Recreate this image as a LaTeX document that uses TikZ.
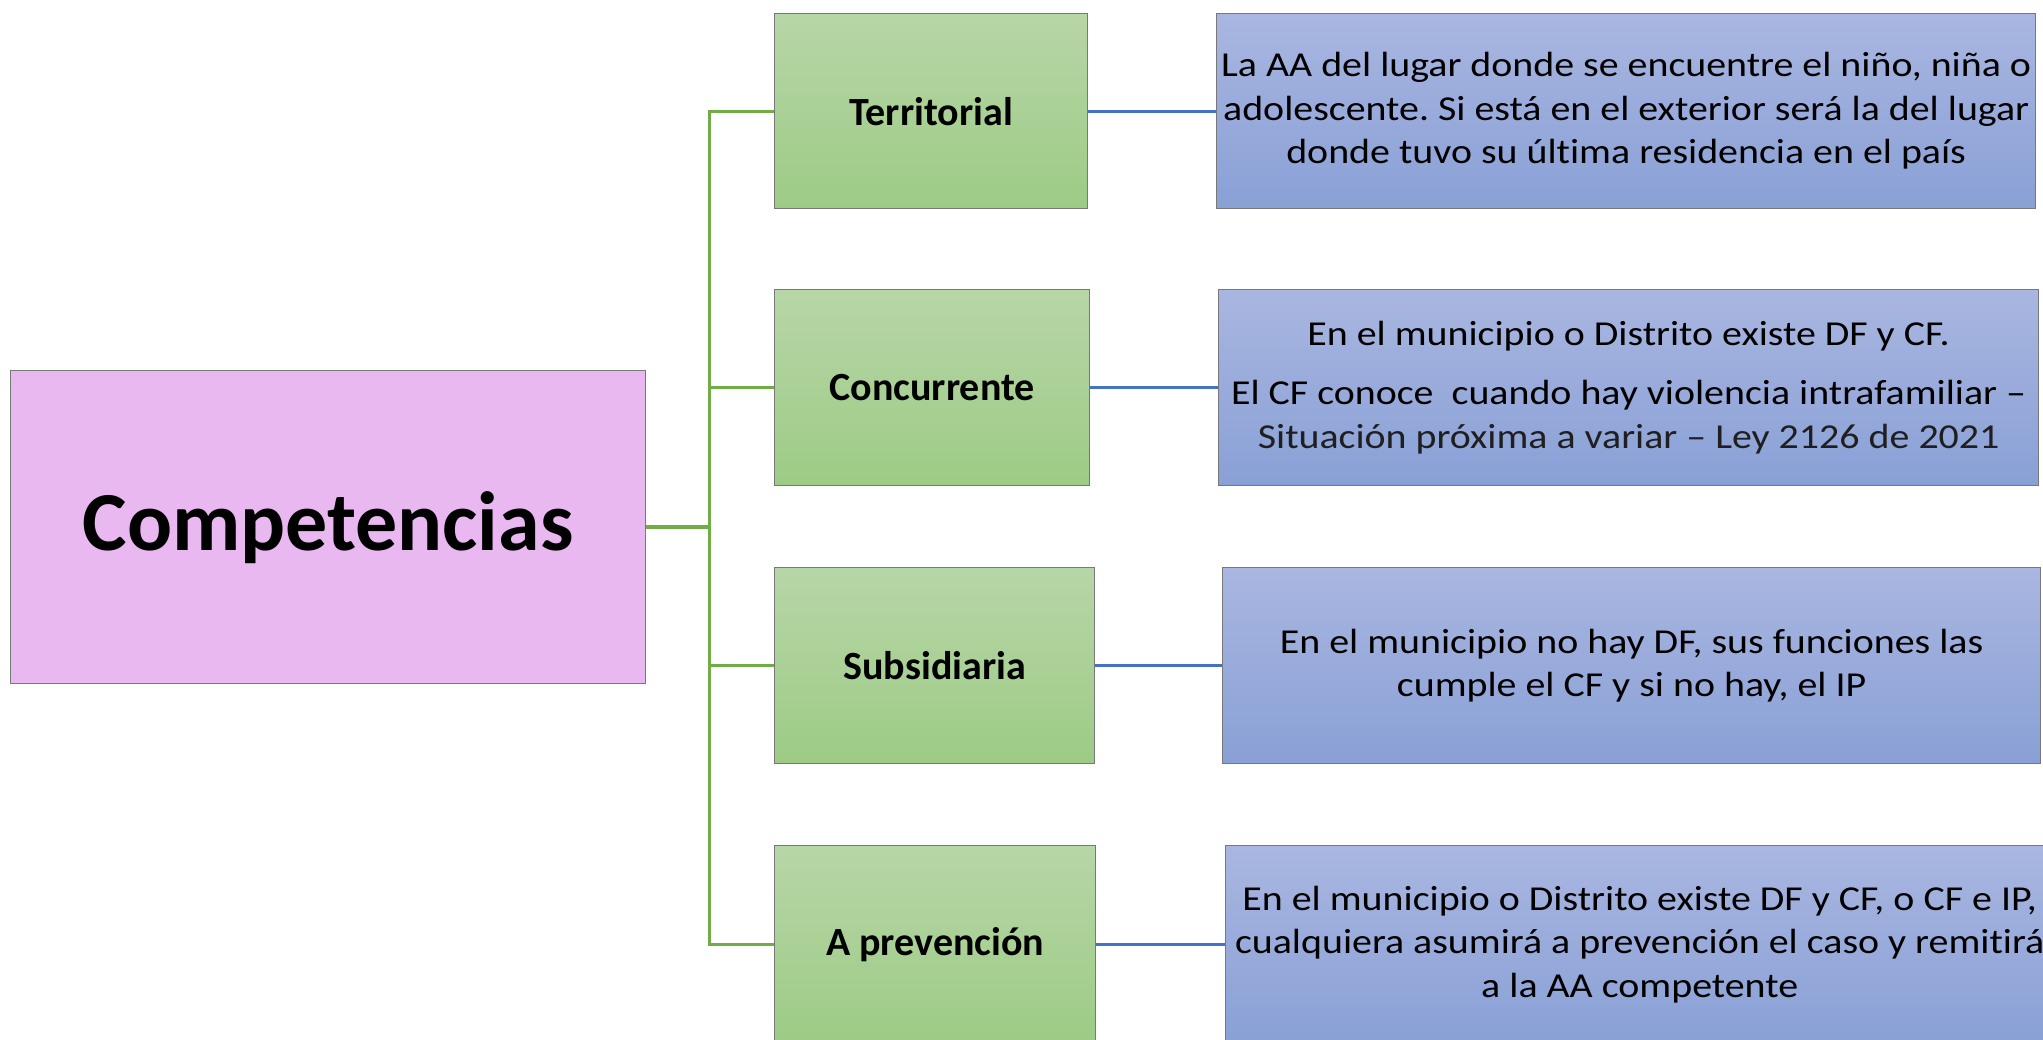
\documentclass[tikz,border=0pt]{standalone}
\usepackage{fontspec}
\setmainfont{Carlito}
\newfontfamily\descfont[FakeStretch=1.14,Ligatures=CommonOff]{Carlito}
\frenchspacing
\definecolor{gtop}{RGB}{183,214,167}
\definecolor{gbot}{RGB}{157,203,133}
\definecolor{btop}{RGB}{169,182,224}
\definecolor{bbot}{RGB}{137,160,214}
\definecolor{pinkf}{RGB}{233,184,240}
\definecolor{bordc}{RGB}{120,120,120}
\definecolor{glinec}{RGB}{112,173,71}
\definecolor{blinec}{RGB}{68,114,196}
\tikzset{
  boxbase/.style={draw=bordc, line width=1.3pt, inner sep=0pt, anchor=north west, align=center},
  mainbox/.style={boxbase, fill=pinkf, font=\fontsize{84}{100}\selectfont\bfseries},
  catbox/.style={boxbase, top color=gtop, bottom color=gbot, font=\fontsize{40}{46}\selectfont\bfseries},
  descbox/.style={boxbase, top color=btop, bottom color=bbot, font=\descfont\fontsize{35}{43.5}\selectfont\frenchspacing},
  gline/.style={draw=glinec, line width=3pt},
  bline/.style={draw=blinec, line width=3pt}
}
\begin{document}
\begin{tikzpicture}[x=1pt,y=-1pt]
\useasboundingbox (0,0) rectangle (2043,1039);
\clip (0,0) rectangle (2043,1039);
\node[mainbox, minimum width=635pt, minimum height=313pt] (comp) at (10,370) {Competencias};
\node[catbox, minimum width=313pt, minimum height=195pt] (t1) at (774,13) {Territorial};
\node[catbox, minimum width=315pt, minimum height=196pt] (t2) at (774,289) {Concurrente};
\node[catbox, minimum width=320pt, minimum height=196pt] (t3) at (774,567) {Subsidiaria};
\node[catbox, minimum width=321pt, minimum height=198pt] (t4) at (774,845) {A prevención};
\node[descbox, minimum width=819pt, minimum height=195pt] (d1) at (1216,13) {La AA del lugar donde se encuentre el niño, niña o\\adolescente. Si está en el exterior será la del lugar\\donde tuvo su última residencia en el país};
\node[descbox, minimum width=820pt, minimum height=196pt] (d2) at (1218,289) {En el municipio o Distrito existe DF y CF.\\[16pt]El CF conoce\ \ cuando hay violencia intrafamiliar –\\{\color{black!88}Situación próxima a variar – Ley 2126 de 2021}};
\node[descbox, minimum width=818pt, minimum height=196pt] (d3) at (1222,567) {En el municipio no hay DF, sus funciones las\\cumple el CF y si no hay, el IP};
\node[descbox, minimum width=828pt, minimum height=198pt] (d4) at (1225,845) {En el municipio o Distrito existe DF y CF, o CF e IP,\\cualquiera asumirá a prevención el caso y remitirá\\a la AA competente};
\coordinate (trunk) at (709,526);
\draw[gline, line width=4pt] (comp.east) -- (comp.east -| trunk);
\draw[gline] (t1.west) -- (t1.west -| trunk) -- (t4.west -| trunk) -- (t4.west);
\draw[gline] (t2.west) -- (t2.west -| trunk);
\draw[gline] (t3.west) -- (t3.west -| trunk);
\draw[bline] (t1.east) -- (d1.west);
\draw[bline] (t2.east) -- (d2.west);
\draw[bline] (t3.east) -- (d3.west);
\draw[bline] (t4.east) -- (d4.west);
\end{tikzpicture}
\end{document}
